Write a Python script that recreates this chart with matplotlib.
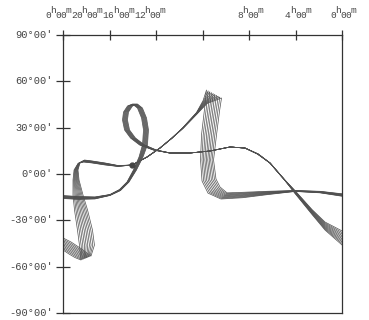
import numpy as np
import matplotlib
matplotlib.use("Agg")
import matplotlib.pyplot as plt
import matplotlib.transforms as mtransforms

plt.rcParams['font.family'] = ['Liberation Mono', 'DejaVu Sans Mono']

# ---- data: bundle of tracks, centre line (RA hours, Dec deg) and bundle spread ----
# segment A: from 24h at Dec -45 down to the V tip, up, across, up to the tall arm, down, and east to 0h
segA_ra = [24.00, 23.40, 22.71, 22.02, 21.94, 22.11, 22.45, 22.71, 22.88, 22.88,
           22.62, 22.19, 21.51, 20.39, 19.27, 18.06, 16.77, 15.66, 14.62, 13.68,
           12.47, 11.78, 11.01, 11.18, 11.44, 11.61, 11.44, 11.01, 10.15, 8.52,
           6.45, 4.04, 1.89, 0.00]
segA_dec = [-45.3, -47.9, -51.2, -54.4, -46.0, -36.3, -23.3, -13.6, -3.9, 2.6,
            7.1, 8.4, 7.8, 6.5, 5.2, 5.8, 11.0, 16.8, 23.3, 29.8,
            39.5, 46.6, 51.8, 41.4, 25.3, 9.1, -3.9, -10.4, -14.2, -13.6,
            -12.3, -11.0, -11.7, -13.6]
segA_dra = [0.00, 0.17, 0.52, 0.86, 1.29, 1.29, 1.12, 0.86, 0.52, 0.34,
            0.17, 0.09, 0.00, 0.00, 0.00, 0.00, 0.00, 0.00, 0.00, -0.04,
            -0.09, -0.34, -1.29, -1.29, -1.29, -1.12, -1.20, -1.03, -0.52, 0.00,
            0.00, 0.00, 0.00, 0.00]
segA_ddec = [-7.8, -7.8, -5.8, -2.6, 0.0, 0.0, 0.0, 0.0, 0.0, 0.0,
             -0.6, -1.3, -1.3, -1.3, -0.6, 0.0, 0.0, 0.0, 0.0, -0.3,
             -0.6, -1.9, -5.2, -1.3, 0.0, 0.0, 1.3, 4.0, 4.0, 3.5,
             2.2, 0.6, 1.0, 1.6]

# segment B: from 24h at Dec -15, up through the loop, east and down to 0h at Dec -41
segB_ra = [24.00, 22.71, 21.25, 19.96, 19.10, 18.41, 17.81, 17.29, 16.95, 16.86,
           17.03, 17.38, 17.81, 18.24, 18.58, 18.67, 18.49, 17.98, 17.20, 16.09,
           14.80, 13.08, 11.35, 9.63, 8.34, 7.23, 6.19, 5.16, 4.04, 2.58,
           1.46, 0.00]
segB_dec = [-14.9, -15.5, -15.5, -13.6, -10.4, -5.2, 2.6, 11.0, 18.8, 28.5,
            36.3, 42.7, 45.3, 44.0, 40.1, 35.0, 28.5, 23.3, 18.8, 15.5,
            13.6, 13.6, 14.9, 17.5, 16.8, 12.9, 7.1, -1.9, -11.7, -24.6,
            -33.7, -41.4]
segB_dra = [0.00, 0.00, 0.00, 0.00, -0.09, -0.17, -0.26, -0.34, -0.43, -0.43,
            -0.43, -0.43, -0.43, -0.43, -0.43, -0.43, -0.43, -0.43, -0.43, -0.26,
            -0.09, 0.00, 0.00, 0.00, 0.00, -0.09, -0.09, -0.17, 0.00, 0.00,
            0.00, 0.00]
segB_ddec = [-1.9, -1.9, -1.3, -0.6, -0.6, 0.0, 0.0, 0.0, 0.0, 0.0,
             0.0, 0.0, 0.0, 0.0, 0.0, 0.0, 0.0, 0.0, 0.0, 0.0,
             0.0, 0.0, 0.0, 0.0, 0.0, 0.0, -0.6, -1.3, -1.9, -3.2,
             -5.2, -9.1]

n_tracks = 10
marker_ra, marker_dec = 18.06, 5.8

ra_ticks = [24, 20, 16, 12, 8, 4, 0]
ra_hours = ['0', '20', '16', '12', '8', '4', '0']
ra_label_left = [25.55, 23.31, 20.60, 17.89, 9.03, 4.90, 1.03]   # left edge of each label
dec_ticks = [90, 60, 30, 0, -30, -60, -90]
dec_labels = ["90°00'", "60°00'", "30°00'", "0°00'", "-30°00'", "-60°00'", "-90°00'"]

# ---- figure ----
W, H = 369, 320
fig = plt.figure(figsize=(W / 100, H / 100), dpi=100)
ax = fig.add_axes([63 / W, 1 - 313 / H, 279 / W, 278 / H])
ax.set_xlim(24, 0)
ax.set_ylim(-90, 90)

line_col = '#505050'
for ra, dec, dra, ddec in [(segA_ra, segA_dec, segA_dra, segA_ddec),
                           (segB_ra, segB_dec, segB_dra, segB_ddec)]:
    ra = np.array(ra); dec = np.array(dec)
    dra = np.array(dra); ddec = np.array(ddec)
    for k in range(n_tracks):
        f = k / (n_tracks - 1) - 0.5
        ax.plot(ra + f * dra, dec + f * ddec, color=line_col, lw=0.5,
                solid_joinstyle='round', clip_on=True)

ax.plot([marker_ra], [marker_dec], 'o', color='#444444', ms=3.5, zorder=5)

for s in ax.spines.values():
    s.set_color('#333333')
    s.set_linewidth(0.9)

ax.set_xticks(ra_ticks)
ax.set_yticks(dec_ticks)
ax.tick_params(axis='x', which='both', top=True, bottom=False, labeltop=False,
               labelbottom=False, direction='inout', length=7, width=0.9, color='#333333')
ax.tick_params(axis='y', which='both', left=True, right=False, labelleft=False,
               direction='inout', length=10, width=0.9, color='#333333')

txt_col = '#444444'
fs_top = 6.8
adv = 3.7                   # advance per character in points
raise_pt = 3.8
trans_top = mtransforms.blended_transform_factory(ax.transData, ax.transAxes)
for pos, hh in zip(ra_label_left, ra_hours):
    pieces = [(hh, 0.0), ('h', raise_pt), ('00', 0.0), ('m', raise_pt)]
    xoff = 0.0
    for s, dy in pieces:
        for ch in s:
            tr = mtransforms.offset_copy(trans_top, fig=fig, x=xoff, y=dy, units='points')
            ax.text(pos, 1 + 17 / 278, ch, transform=tr, ha='left', va='baseline',
                    fontsize=fs_top, color=txt_col, clip_on=False)
            xoff += adv

trans_left = mtransforms.blended_transform_factory(ax.transAxes, ax.transData)
for pos, lab in zip(dec_ticks, dec_labels):
    ax.text(-10 / 279, pos, lab, transform=trans_left, ha='right', va='center',
            fontsize=7.5, color=txt_col, clip_on=False)

fig.savefig('out.png', dpi=100)
